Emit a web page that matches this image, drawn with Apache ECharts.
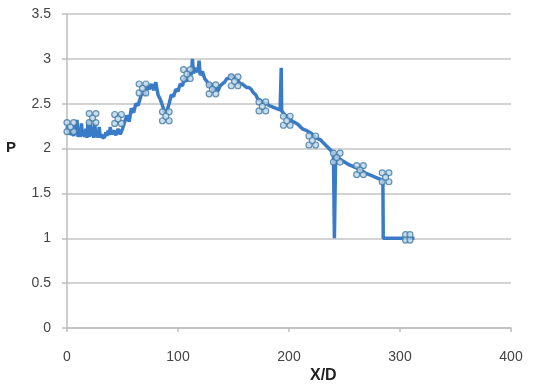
<!DOCTYPE html>
<html><head><meta charset="utf-8">
<script src="https://cdn.jsdelivr.net/npm/echarts@6/dist/echarts.min.js"></script>
<style>html,body{margin:0;padding:0;background:#fff}#c{width:534px;height:390px}</style>
</head><body><div id="c"></div>
<script>
var xTicks = [0, 100, 200, 300, 400];
var yTicks = [0, 0.5, 1, 1.5, 2, 2.5, 3, 3.5];
var xTitle = 'X/D';
var yTitle = 'P';

var lineX = [0,1,2,3,4,5,6,7,8,9,10,11,12,13,14,15,16,17,18,19,20,21,22,23,24,25,26,27,28,29,30,31,32,33,34,35,36,37,38,39,40,42,44,46,48,50,52,54,56,58,60,62,64,66,68,70,72,74,76,78,80,82,84,86,88,89,90,92,94,96,98,100,102,104,106,108,110,112,113,114,116,118,119,120,122,124,126,128,130,132,134,136,138,140,142,144,146,148,150,152,154,156,158,160,162,164,166,168,170,172,174,176,178,180,182,184,186,188,190,192,192.6,193,193.4,194,196,200,204,208,212,216,220,224,228,232,236,240,240.5,240.9,241.4,242,246,250,254,258,262,266,270,274,278,282,284.6,284.9,313];
var lineY = [2.25,2.2,2.16,2.22,2.15,2.18,2.14,2.26,2.15,2.32,2.13,2.2,2.13,2.28,2.14,2.18,2.13,2.22,2.12,2.3,2.13,2.32,2.14,2.24,2.12,2.28,2.13,2.2,2.12,2.24,2.12,2.16,2.12,2.14,2.13,2.18,2.14,2.2,2.15,2.24,2.16,2.2,2.15,2.22,2.16,2.22,2.3,2.37,2.3,2.45,2.4,2.5,2.48,2.56,2.65,2.6,2.7,2.66,2.72,2.65,2.74,2.6,2.55,2.48,2.4,2.38,2.42,2.5,2.6,2.58,2.66,2.64,2.72,2.7,2.78,2.75,2.86,2.82,3.0,2.84,2.9,2.85,2.98,2.82,2.86,2.78,2.75,2.7,2.72,2.65,2.68,2.64,2.7,2.72,2.74,2.78,2.78,2.82,2.8,2.78,2.76,2.72,2.72,2.7,2.68,2.68,2.66,2.62,2.6,2.55,2.54,2.52,2.5,2.5,2.48,2.47,2.46,2.45,2.44,2.43,2.43,2.9,2.42,2.4,2.38,2.33,2.3,2.27,2.22,2.2,2.17,2.12,2.1,2.05,2.0,1.95,1.95,1.0,1.0,1.93,1.88,1.85,1.82,1.8,1.78,1.75,1.72,1.7,1.68,1.66,1.64,1.0,1.0];

var markerX = [0,6,0,6,3, 20,26,20,26,23, 43,49,43,49,46, 65,71,65,71,68, 86,92,86,92,89, 105,111,105,111,108, 128,134,128,134,131, 148,154,148,154,151, 173,179,173,179,176, 195,201,195,201,198, 218,224,218,224,221, 240,246,240,246,243, 261,267,261,267,264, 284,290,284,290,287, 305,309,305,309];
var markerY = [2.29,2.29,2.19,2.19,2.24, 2.39,2.39,2.29,2.29,2.34, 2.38,2.38,2.28,2.28,2.33, 2.72,2.72,2.62,2.62,2.67, 2.41,2.41,2.31,2.31,2.36, 2.88,2.88,2.78,2.78,2.83, 2.71,2.71,2.61,2.61,2.66, 2.8,2.8,2.7,2.7,2.75, 2.52,2.52,2.42,2.42,2.47, 2.36,2.36,2.26,2.26,2.31, 2.14,2.14,2.04,2.04,2.09, 1.95,1.95,1.85,1.85,1.9, 1.81,1.81,1.71,1.71,1.76, 1.73,1.73,1.63,1.63,1.68, 1.04,1.04,0.98,0.98];

var lineData = lineX.map(function (x, i) { return [x, lineY[i]]; });
var markerData = markerX.map(function (x, i) { return [x, markerY[i]]; });

var chart = echarts.init(document.getElementById('c'), null, {renderer: 'canvas'});
var labelFont = {fontFamily: 'Liberation Sans', fontSize: 14, color: '#444'};
chart.setOption({
  animation: false,
  backgroundColor: '#fff',
  grid: {left: 67, right: 23, top: 14, bottom: 62, containLabel: false},
  xAxis: {
    type: 'value', min: xTicks[0], max: xTicks[xTicks.length - 1], interval: 100,
    axisLine: {show: true, lineStyle: {color: '#bdbdbd', width: 1.5}},
    axisTick: {show: true, length: 4, lineStyle: {color: '#bdbdbd', width: 1.5}},
    splitLine: {show: false},
    axisLabel: Object.assign({margin: 22}, labelFont)
  },
  yAxis: {
    type: 'value', min: yTicks[0], max: yTicks[yTicks.length - 1], interval: 0.5,
    axisLine: {show: true, lineStyle: {color: '#bdbdbd', width: 1.5}},
    axisTick: {show: true, length: 5, lineStyle: {color: '#bdbdbd', width: 1.5}},
    splitLine: {show: true, lineStyle: {color: '#c4c4c4', width: 1.5}},
    axisLabel: Object.assign({margin: 16}, labelFont)
  },
  graphic: [
    {type: 'text', left: 6, top: 140, style: {text: yTitle, font: 'bold 15px "Liberation Sans"', fill: '#222'}},
    {type: 'text', left: 310, top: 368, style: {text: xTitle, font: 'bold 16px "Liberation Sans"', fill: '#222'}}
  ],
  series: [
    {type: 'line', data: lineData, showSymbol: false, symbol: 'none',
     lineStyle: {color: '#3a7bc8', width: 3.5}, z: 2},
    {type: 'scatter', data: markerData, symbol: 'circle', symbolSize: 6,
     itemStyle: {color: '#bcd5ec', borderColor: '#41799f', borderWidth: 1.2}, z: 3}
  ]
});
</script></body></html>
